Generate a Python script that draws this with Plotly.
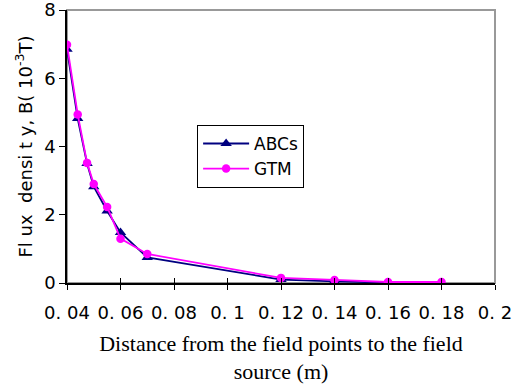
import plotly.graph_objects as go

distance = [0.04, 0.044, 0.0475, 0.05, 0.055, 0.06, 0.07, 0.12, 0.14, 0.16, 0.18]
abcs = [6.85, 4.82, 3.50, 2.82, 2.11, 1.48, 0.75, 0.10, 0.05, 0.01, 0.01]
gtm = [6.98, 4.94, 3.52, 2.90, 2.23, 1.30, 0.85, 0.15, 0.09, 0.03, 0.03]

x_tickvals = [0.04, 0.06, 0.08, 0.10, 0.12, 0.14, 0.16, 0.18, 0.20]
x_ticktext = ["0. 04", "0. 06", "0. 08", "0. 1", "0. 12", "0. 14", "0. 16", "0. 18", "0. 2"]
y_tickvals = [0, 2, 4, 6, 8]

fig = go.Figure()
fig.add_trace(go.Scatter(
    x=distance, y=abcs, name="ABCs", mode="lines+markers",
    line=dict(color="#000080", width=1.8),
    marker=dict(symbol="triangle-up", size=10, color="#000080"),
))
fig.add_trace(go.Scatter(
    x=distance, y=gtm, name="GTM", mode="lines+markers",
    line=dict(color="#FF00FF", width=1.8),
    marker=dict(symbol="circle", size=8.5, color="#FF00FF"),
))
fig.add_trace(go.Scatter(x=[None], y=[None], xaxis="x2", showlegend=False, hoverinfo="skip"))

fig.update_layout(
    width=524, height=385,
    margin=dict(l=67, r=29, t=10, b=102, autoexpand=False),
    paper_bgcolor="white", plot_bgcolor="white",
    font=dict(family="DejaVu Sans", color="black"),
    showlegend=True,
    legend=dict(
        x=0.304, y=0.579, xanchor="left", yanchor="top",
        bgcolor="white", bordercolor="black", borderwidth=1,
        font=dict(family="DejaVu Sans", size=17, color="black"),
        itemwidth=46, tracegroupgap=2,
    ),
    xaxis=dict(
        range=[0.04, 0.20], tickvals=x_tickvals, ticktext=x_ticktext,
        automargin=False,
        showgrid=False, zeroline=False, showline=True, linecolor="black", linewidth=1.5,
        ticks="outside", ticklen=5, tickcolor="black", ticklabelstandoff=8,
        ticklabeloverflow="allow",
        tickfont=dict(family="DejaVu Sans", size=18),
        title=dict(
            text="Distance from the field points to the field<br>source (m)",
            font=dict(family="Liberation Serif", size=22), standoff=13,
        ),
    ),
    xaxis2=dict(
        range=[0.04, 0.20], overlaying="x", anchor="y", side="bottom",
        tickvals=x_tickvals, showticklabels=False, showgrid=False, zeroline=False,
        showline=False, ticks="inside", ticklen=5, tickcolor="black",
    ),
    yaxis=dict(
        range=[0, 8], tickvals=y_tickvals,
        automargin=False,
        showgrid=False, zeroline=False, showline=True, linecolor="black", linewidth=1.5,
        ticks="outside", ticklen=6, tickcolor="black", ticklabelstandoff=0,
        ticklabeloverflow="allow",
        tickfont=dict(family="DejaVu Sans", size=18),
        title=dict(
            text="Fl ux  densi t y, B( 10<sup>-3</sup>T)",
            font=dict(family="DejaVu Sans", size=18), standoff=7,
        ),
    ),
    shapes=[dict(
        type="rect", xref="paper", yref="paper", x0=0, y0=0, x1=1, y1=1,
        line=dict(color="#999999", width=2), layer="below",
    )],
)

fig.write_html("out.html")
